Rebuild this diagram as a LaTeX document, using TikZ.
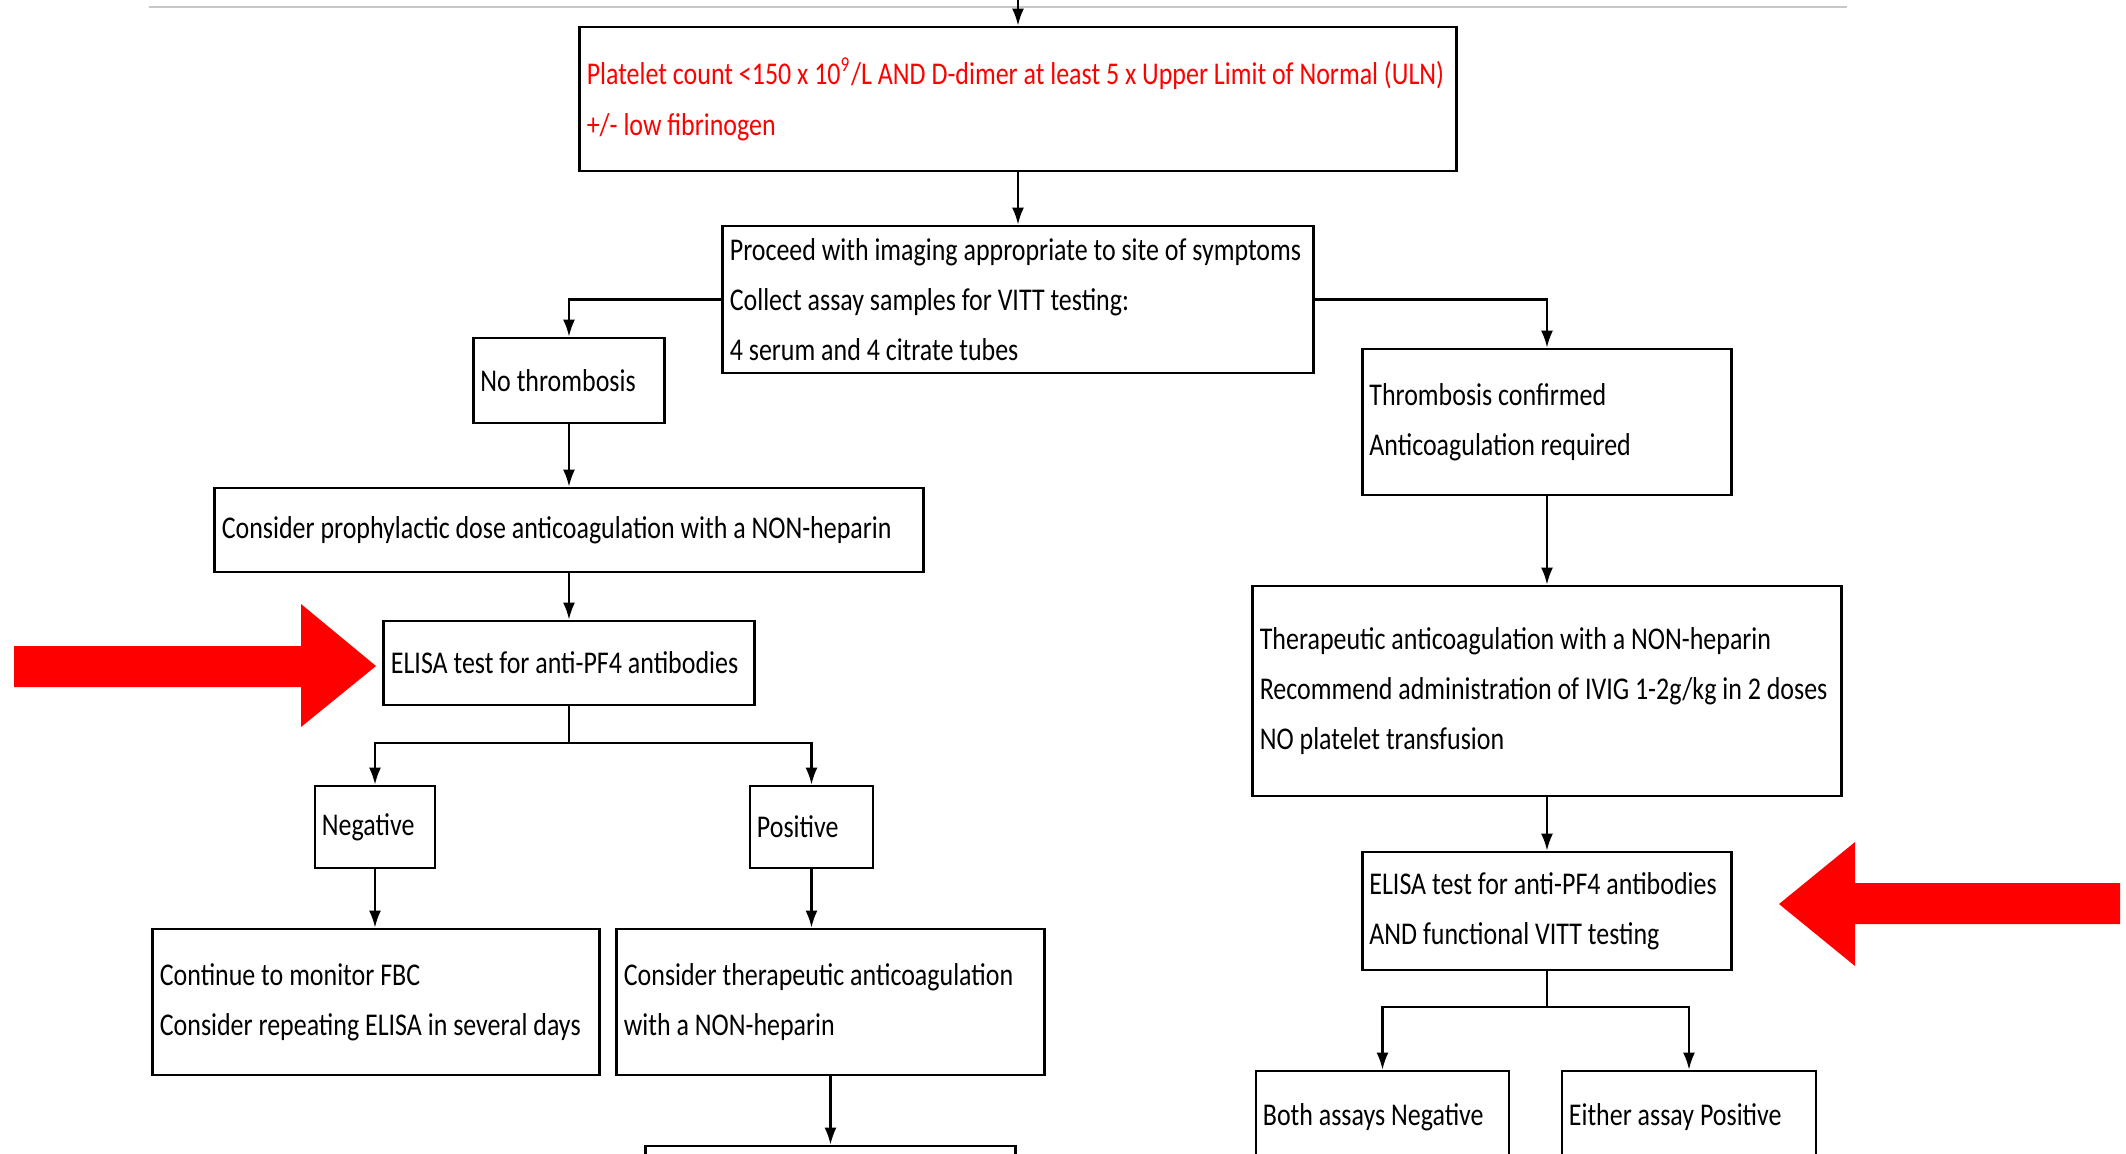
\documentclass[tikz,border=0pt]{standalone}
\usepackage{fontspec}
\setmainfont{Carlito}[FakeStretch=0.82]
\usetikzlibrary{arrows.meta}
\hyphenpenalty=10000

\begin{document}
\begin{tikzpicture}[x=0.01cm,y=-0.01cm,>={Latex[length=1.7mm,width=1.2mm]},
    every node/.style={font=\fontsize{9}{14.3}\selectfont},
    box/.style={draw,line width=0.8pt,align=flush left,inner xsep=0.07cm,inner ysep=0pt},
    every path/.style={line width=0.6pt}]
  \useasboundingbox (0,0) rectangle (2126,1153);
  \draw[black!22,line width=0.8pt] (149,7) -- (1847,7);

  \node[box,text width=8.62cm,minimum height=1.44cm,text=red] (crit) at (1018,99)
    {Platelet count <150 x 10\textsuperscript{9}/L AND D-dimer at least 5 x Upper Limit of Normal (ULN)\\+/- low fibrinogen};
  \node[box,text width=5.76cm,minimum height=1.47cm] (img) at (1018,299.5)
    {Proceed with imaging appropriate to site of symptoms\\Collect assay samples for VITT testing:\\4 serum and 4 citrate tubes};
  \node[box,text width=1.77cm,minimum height=0.85cm] (no_thr) at (569,380.5) {No thrombosis};
  \node[box,text width=6.94cm,minimum height=0.84cm] (proph) at (569,530)
    {Consider prophylactic dose anticoagulation with a NON-heparin};
  \node[box,text width=3.56cm,minimum height=0.84cm] (elisa_l) at (569,663) {ELISA test for anti-PF4 antibodies};
  \node[box,text width=1.06cm,minimum height=0.82cm] (neg_l) at (375,827) {Negative};
  \node[box,text width=1.09cm,minimum height=0.82cm] (pos_l) at (811.5,827) {Positive};
  \node[box,text width=4.32cm,minimum height=1.46cm] (mon_l) at (376,1002)
    {Continue to monitor FBC\\Consider repeating ELISA in several days};
  \node[box,text width=4.13cm,minimum height=1.46cm] (ther_l) at (830.5,1002)
    {Consider therapeutic anticoagulation\\with a NON-heparin};
  \node[box,text width=3.56cm,minimum height=1.0cm] (next_l) at (830.5,1196) {};

  \node[box,text width=3.55cm,minimum height=1.46cm] (thr) at (1547,422)
    {Thrombosis confirmed\\Anticoagulation required};
  \node[box,text width=5.74cm,minimum height=2.10cm] (ther_r) at (1547,691)
    {Therapeutic anticoagulation with a NON-heparin\\Recommend administration of IVIG 1-2g/kg in 2 doses\\NO platelet transfusion};
  \node[box,text width=3.55cm,minimum height=1.18cm] (elisa_r) at (1547,911)
    {ELISA test for anti-PF4 antibodies\\AND functional VITT testing};
  \node[box,text width=2.39cm,minimum height=0.92cm] (neg_r) at (1382.5,1117) {Both assays Negative};
  \node[box,text width=2.40cm,minimum height=0.92cm] (pos_r) at (1689,1117) {Either assay Positive};

  \coordinate (entry) at (1018,0);
  \coordinate (split_l) at (569,743);
  \coordinate (split_r) at (1547,1007);

  \draw[->] (entry) -- (crit.north);
  \draw[->] (crit) -- (img);
  \draw[->] (img.west) -| (no_thr.north);
  \draw[->] (img.east) -| (thr.north);
  \draw[->] (no_thr) -- (proph);
  \draw[->] (proph) -- (elisa_l);
  \draw (elisa_l.south) -- (split_l);
  \draw[->] (split_l) -| (neg_l.north);
  \draw[->] (split_l) -| (pos_l.north);
  \draw[->] (neg_l.south) -- (neg_l.south |- mon_l.north);
  \draw[->] (pos_l.south) -- (pos_l.south |- ther_l.north);
  \draw[->] (ther_l) -- (next_l);
  \draw[->] (thr) -- (ther_r);
  \draw[->] (ther_r) -- (elisa_r);
  \draw (elisa_r.south) -- (split_r);
  \draw[->] (split_r) -| (neg_r.north);
  \draw[->] (split_r) -| (pos_r.north);

  \fill[red] (14,646) -- (301,646) -- (301,604) -- (376,666) -- (301,727) -- (301,687) -- (14,687) -- cycle;
  \fill[red] (2120,883) -- (1855,883) -- (1855,842) -- (1779,904) -- (1855,966) -- (1855,924) -- (2120,924) -- cycle;
\end{tikzpicture}
\end{document}
